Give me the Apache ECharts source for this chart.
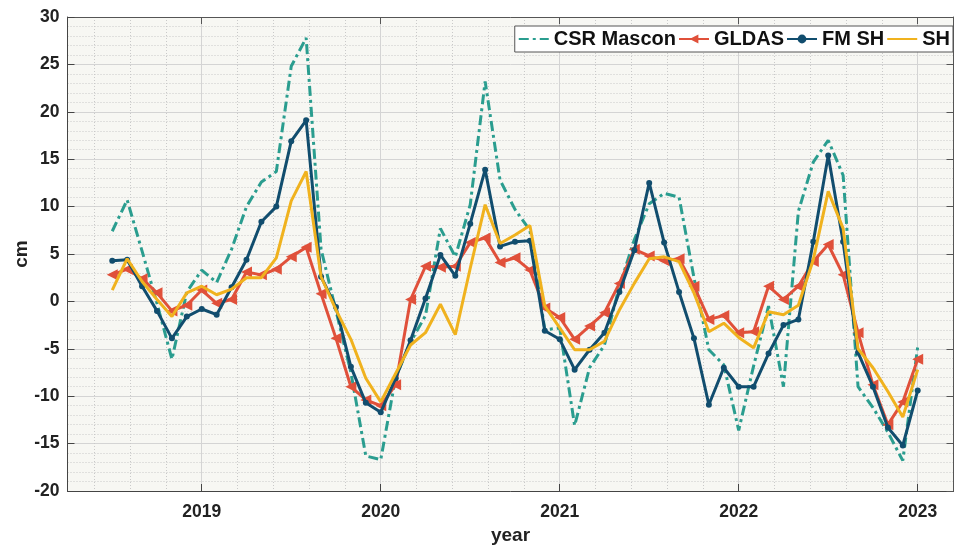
<!DOCTYPE html>
<html><head><meta charset="utf-8">
<script src="https://cdn.jsdelivr.net/npm/echarts@6/dist/echarts.min.js"></script>
<style>html,body{margin:0;padding:0;background:#fff}#c{width:960px;height:547px}</style>
</head><body><div id="c"></div>
<script>
// monthly epochs (year-month)
const months = [
 '2018-07','2018-08','2018-09','2018-10','2018-11','2018-12',
 '2019-01','2019-02','2019-03','2019-04','2019-05','2019-06','2019-07','2019-08','2019-09','2019-10','2019-11','2019-12',
 '2020-01','2020-02','2020-03','2020-04','2020-05','2020-06','2020-07','2020-08','2020-09','2020-10','2020-11','2020-12',
 '2021-01','2021-02','2021-03','2021-04','2021-05','2021-06','2021-07','2021-08','2021-09','2021-10','2021-11','2021-12',
 '2022-01','2022-02','2022-03','2022-04','2022-05','2022-06','2022-07','2022-08','2022-09','2022-10','2022-11','2022-12',
 '2023-01'
];
const csrMascon = [7.4,10.7,5.3,-0.2,-6.1,1.0,3.3,2.0,5.5,10.0,12.6,13.7,24.8,27.8,5.5,-1.0,-7.5,-16.3,-16.7,-8.0,-4.3,-1.5,7.7,4.7,10.2,23.2,12.8,9.7,7.5,-3.0,-2.8,-13.1,-7.0,-4.6,1.6,6.5,10.3,11.4,11.0,2.5,-5.1,-6.7,-13.6,-6.8,-0.5,-9.0,9.5,14.7,17.0,13.3,-9.0,-11.2,-13.8,-16.8,-4.8];
const gldas = [2.8,3.4,2.4,0.9,-1.0,-0.4,1.2,-0.2,0.2,3.1,2.8,3.4,4.7,5.7,0.8,-3.9,-9.0,-10.4,-11.0,-8.8,0.2,3.7,3.6,3.7,6.2,6.7,4.1,4.6,3.3,-0.7,-1.7,-4.0,-2.6,-1.2,1.9,5.5,4.8,4.3,4.5,1.6,-1.9,-1.5,-3.3,-3.2,1.6,0.2,1.6,4.2,6.0,2.8,-3.3,-8.8,-13.0,-10.6,-6.1];
const fmSH = [4.3,4.4,1.6,-1.0,-3.9,-1.6,-0.8,-1.4,1.5,4.4,8.4,10.0,16.9,19.1,2.6,-0.6,-6.9,-10.7,-11.7,-8.1,-4.1,0.3,4.9,2.7,8.2,13.9,5.8,6.3,6.4,-3.1,-4.0,-7.2,-5.1,-3.3,1.0,5.4,12.5,6.2,1.0,-3.9,-10.9,-7.0,-9.0,-9.0,-5.5,-2.5,-1.9,6.3,15.4,6.3,-5.4,-9.0,-13.3,-15.2,-9.4];
const sh = [1.2,4.5,2.1,0.2,-1.6,0.9,1.6,0.7,1.3,2.5,2.5,4.6,10.6,13.7,2.6,-0.9,-4.0,-8.1,-10.6,-7.6,-4.6,-3.3,-0.3,-3.5,3.5,10.2,6.1,7.0,8.0,-0.5,-2.8,-5.1,-5.1,-4.2,-0.9,1.9,4.5,4.7,4.2,0.9,-3.2,-2.3,-3.8,-4.9,-1.1,-1.4,-0.4,4.4,11.6,7.7,-5.0,-7.0,-9.5,-12.2,-7.2];
const yearTicks = [2019, 2020, 2021, 2022, 2023];
const xMin = 2018.25, xMax = 2023.2;
const yMin = -20, yMax = 30, yStep = 5;

function decYear(s){ const [y,m] = s.split('-').map(Number); return y + (m-1)/12; }
const xs = months.map(decYear);
const pair = arr => arr.map((v,i)=>[xs[i], v]);

// minor vertical grid positions (every 0.2 yr, excluding full years)
const minorX = [];
for (let k = Math.ceil(xMin*5); k <= Math.floor(xMax*5); k++) { if (k % 5 !== 0) minorX.push(+(k/5).toFixed(2)); }

const FONT = '"Liberation Sans", Arial, sans-serif';
const C_TEAL = '#2a9d8f', C_RED = '#e0503a', C_BLUE = '#114d6e', C_YEL = '#f0b21e';

const chart = echarts.init(document.getElementById('c'), null, {renderer:'canvas'});
chart.setOption({
  backgroundColor: '#ffffff',
  animation: false,
  grid: {left: 67.5, right: 6.5, top: 17, bottom: 56, containLabel: false, outerBoundsMode: 'none',
         show: true, backgroundColor: '#f7f7f3', borderWidth: 0},
  legend: {
    right: 7, top: 26, orient: 'horizontal',
    itemWidth: 30, itemHeight: 11, itemGap: 2,
    padding: [3, 3, 3, 3],
    borderColor: '#555', borderWidth: 1, backgroundColor: '#ffffff',
    textStyle: {fontFamily: FONT, fontWeight: 'bold', fontSize: 20, color: '#111'},
    data: [
      {name: 'CSR Mascon', itemStyle: {opacity: 0}},
      {name: 'GLDAS'},
      {name: 'FM SH'},
      {name: 'SH', itemStyle: {opacity: 0}}
    ]
  },
  xAxis: [
    { type: 'value', min: xMin, max: xMax, position: 'bottom',
      name: 'year', nameLocation: 'middle', nameGap: 35, nameMoveOverlap: false,
      nameTextStyle: {fontFamily: FONT, fontWeight: 'bold', fontSize: 19, color: '#222'},
      axisLine: {show: true, onZero: false, lineStyle: {color: '#444', width: 1}},
      axisTick: {show: true, inside: true, length: 7, customValues: yearTicks, lineStyle: {color: '#444'}},
      axisLabel: {customValues: yearTicks, margin: 12, fontFamily: FONT, fontWeight: 'bold', fontSize: 17.5, color: '#222', formatter: v => String(Math.round(v))},
      splitLine: {show: true, lineStyle: {color: '#d4d4d4', width: 1}}
    },
    { type: 'value', min: xMin, max: xMax, position: 'top',
      axisLine: {show: true, onZero: false, lineStyle: {color: '#555', width: 1}},
      axisTick: {show: true, inside: true, length: 7, customValues: yearTicks, lineStyle: {color: '#555'}},
      axisLabel: {show: false}, splitLine: {show: false}
    },
    { type: 'value', min: xMin, max: xMax, position: 'bottom',
      axisLine: {show: false}, axisTick: {show: false, customValues: minorX},
      axisLabel: {show: false},
      splitLine: {show: true, lineStyle: {color: '#c9c9c9', width: 1, type: [1, 2]}}
    }
  ],
  yAxis: [
    { type: 'value', min: yMin, max: yMax, interval: yStep, position: 'left',
      name: 'cm', nameLocation: 'middle', nameGap: 36, nameRotate: 90, nameMoveOverlap: false,
      nameTextStyle: {fontFamily: FONT, fontWeight: 'bold', fontSize: 19, color: '#222'},
      axisLine: {show: true, onZero: false, lineStyle: {color: '#444', width: 1}},
      axisTick: {show: true, inside: true, length: 7, lineStyle: {color: '#444'}},
      axisLabel: {margin: 8, fontFamily: FONT, fontWeight: 'bold', fontSize: 17.5, color: '#222'},
      splitLine: {show: true, lineStyle: {color: '#d4d4d4', width: 1}},
      minorTick: {show: false, splitNumber: 5},
      minorSplitLine: {show: true, lineStyle: {color: '#c9c9c9', width: 1, type: [1, 2]}}
    },
    { type: 'value', min: yMin, max: yMax, interval: yStep, position: 'right',
      axisLine: {show: true, onZero: false, lineStyle: {color: '#555', width: 1}},
      axisTick: {show: true, inside: true, length: 7, lineStyle: {color: '#555'}},
      axisLabel: {show: false}, splitLine: {show: false}
    }
  ],
  series: [
    { name: 'CSR Mascon', type: 'line', xAxisIndex: 0, yAxisIndex: 0, data: pair(csrMascon),
      symbol: 'none', z: 2,
      lineStyle: {color: C_TEAL, width: 3, type: [10, 4, 3, 4]}, itemStyle: {color: C_TEAL} },
    { name: 'GLDAS', type: 'line', xAxisIndex: 0, yAxisIndex: 0, data: pair(gldas),
      symbol: 'triangle', symbolSize: 11, symbolRotate: 90, showAllSymbol: true, z: 3,
      lineStyle: {color: C_RED, width: 3}, itemStyle: {color: C_RED, borderWidth: 0} },
    { name: 'FM SH', type: 'line', xAxisIndex: 0, yAxisIndex: 0, data: pair(fmSH),
      symbol: 'circle', symbolSize: 6, showAllSymbol: true, z: 4,
      lineStyle: {color: C_BLUE, width: 3}, itemStyle: {color: C_BLUE, borderWidth: 0} },
    { name: 'SH', type: 'line', xAxisIndex: 0, yAxisIndex: 0, data: pair(sh),
      symbol: 'none', z: 5,
      lineStyle: {color: C_YEL, width: 3}, itemStyle: {color: C_YEL} }
  ]
});
</script></body></html>
